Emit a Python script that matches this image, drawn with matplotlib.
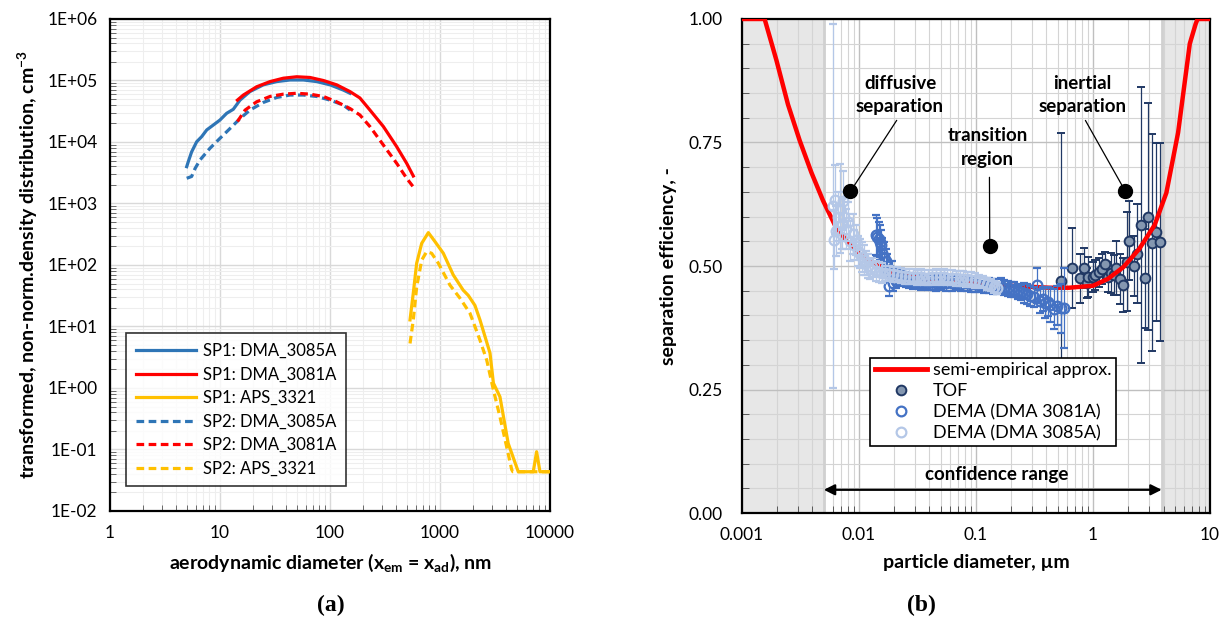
import matplotlib
matplotlib.use("Agg")
import matplotlib.pyplot as plt
from matplotlib.lines import Line2D
from matplotlib.ticker import FixedLocator, FuncFormatter, MultipleLocator, LogLocator, NullFormatter

plt.rcParams['font.family'] = ['Lato', 'DejaVu Sans']
plt.rcParams['mathtext.fontset'] = 'custom'
plt.rcParams['mathtext.rm'] = 'Lato'
plt.rcParams['mathtext.bf'] = 'Lato:bold'
plt.rcParams['mathtext.default'] = 'bf'

# ---------------- panel (a) data ----------------
sp1_3085_x = [4.98, 5.15, 5.52, 6.14, 6.81, 7.57, 8.7, 10, 11.5, 13.2, 15.2, 18.7, 24.8, 32.8, 43.3, 57.3, 75.7, 100, 132, 152]
sp1_3085_y = [3970, 4800, 6900, 1.01e4, 1.22e4, 1.57e4, 1.89e4, 2.28e4, 2.93e4, 3.4e4, 4.8e4, 6.6e4, 8.5e4, 9.6e4, 1.02e5, 1.02e5, 9.6e4, 8.5e4, 7.0e4, 6.2e4]

sp1_3081_x = [14.4, 16.3, 21.5, 28.5, 37.7, 49.8, 65.8, 87, 115, 152, 187, 231, 306, 404, 498, 572]
sp1_3081_y = [4.8e4, 5.8e4, 7.9e4, 9.6e4, 1.09e5, 1.15e5, 1.12e5, 1.0e5, 8.5e4, 6.6e4, 5.2e4, 3.3e4, 1.78e4, 8400, 4500, 2800]

sp1_aps_x = [534, 572, 614, 682, 784, 901, 1073, 1320, 1625, 1810, 2080, 2310, 2850, 3060, 3510, 4170, 5150, 7050, 7560, 8110, 10000]
sp1_aps_y = [12.8, 35, 107, 225, 336, 240, 155, 69, 39, 32, 22, 12.8, 3.7, 1.2, 0.72, 0.126, 0.0435, 0.0435, 0.092, 0.0435, 0.0435]

sp2_3085_x = [4.98, 5.52, 5.93, 6.58, 8.1, 10, 12.3, 15.2, 18.7, 24.8, 32.8, 43.3, 57.3, 75.7, 100, 132, 152]
sp2_3085_y = [2570, 2750, 3700, 5100, 7900, 1.15e4, 1.65e4, 2.4e4, 3.3e4, 4.4e4, 5.3e4, 5.8e4, 5.8e4, 5.5e4, 4.8e4, 4.0e4, 3.3e4]

sp2_3081_x = [14.4, 16.9, 21.5, 28.5, 37.7, 49.8, 65.8, 87, 115, 152, 187, 231, 306, 404, 498, 572]
sp2_3081_y = [2.15e4, 3.3e4, 4.5e4, 5.5e4, 6.0e4, 6.2e4, 6.0e4, 5.5e4, 4.5e4, 3.5e4, 2.75e4, 1.78e4, 8900, 4500, 2570, 1860]

sp2_aps_x = [534, 572, 614, 682, 757, 840, 966, 1233, 1517, 1875, 2310, 2660, 3060, 3510, 4040, 4490, 4600, 10000]
sp2_aps_y = [5.3, 12.8, 44, 120, 165, 155, 107, 47, 29, 16.4, 6.0, 2.85, 0.93, 0.34, 0.11, 0.047, 0.0435, 0.0435]

left_legend = ["SP1: DMA_3085A", "SP1: DMA_3081A", "SP1: APS_3321",
               "SP2: DMA_3085A", "SP2: DMA_3081A", "SP2: APS_3321"]

# ---------------- panel (b) data ----------------
approx_x = [0.001, 0.00156, 0.00197, 0.00247, 0.00311, 0.00392, 0.00493, 0.00621, 0.00782, 0.01, 0.0145,
            0.0197, 0.0423, 0.1, 0.196, 0.423, 0.621, 1.0, 1.34, 1.82, 2.47, 3.36, 4.23, 5.33, 6.71, 7.53, 7.82, 10]
approx_y = [1.0, 1.0, 0.916, 0.827, 0.754, 0.689, 0.632, 0.583, 0.551, 0.526, 0.502,
            0.486, 0.472, 0.466, 0.46, 0.456, 0.456, 0.46, 0.474, 0.498, 0.534, 0.583, 0.648, 0.77, 0.95, 0.99, 1.0, 1.0]

tof_x = [0.53, 0.66, 0.78, 0.83, 0.88, 0.91, 0.99, 1.04, 1.13, 1.19, 1.27, 1.33, 1.42, 1.50, 1.58, 1.69, 1.82,
         1.94, 2.04, 2.25, 2.37, 2.56, 2.76, 2.97, 3.21, 3.46, 3.74]
tof_y = [0.470, 0.496, 0.475, 0.496, 0.465, 0.478, 0.478, 0.482, 0.487, 0.494, 0.504, 0.478, 0.486, 0.482, 0.496,
         0.474, 0.461, 0.509, 0.551, 0.500, 0.525, 0.583, 0.475, 0.600, 0.547, 0.569, 0.548]
tof_err = [0.30, 0.08, 0.05, 0.04, 0.03, 0.04, 0.03, 0.03, 0.03, 0.03, 0.025, 0.03, 0.04, 0.04, 0.055,
           0.05, 0.055, 0.10, 0.08, 0.06, 0.10, 0.28, 0.10, 0.23, 0.22, 0.18, 0.20]

d3081_x = [0.0139, 0.0143, 0.0147, 0.015, 0.0154, 0.0158, 0.0163, 0.0169, 0.0175, 0.0182, 0.019, 0.0197, 0.0205,
           0.022, 0.0235, 0.025, 0.0267, 0.029, 0.031, 0.0336, 0.036, 0.039, 0.042, 0.0457, 0.05, 0.055, 0.062,
           0.068, 0.075, 0.083, 0.09, 0.098, 0.107, 0.117, 0.128, 0.14, 0.152, 0.163, 0.175, 0.188, 0.2, 0.213,
           0.227, 0.242, 0.257, 0.275, 0.29, 0.311, 0.33, 0.35, 0.37, 0.39, 0.41, 0.43, 0.46, 0.49, 0.53, 0.56]
d3081_y = [0.563, 0.558, 0.555, 0.548, 0.543, 0.526, 0.518, 0.510, 0.500, 0.460, 0.490, 0.465, 0.470,
           0.478, 0.474, 0.472, 0.470, 0.468, 0.470, 0.466, 0.468, 0.466, 0.467, 0.465, 0.466, 0.465, 0.465,
           0.466, 0.464, 0.465, 0.463, 0.463, 0.462, 0.461, 0.460, 0.459, 0.458, 0.460, 0.456, 0.455, 0.453, 0.452,
           0.449, 0.447, 0.446, 0.443, 0.440, 0.437, 0.461, 0.429, 0.433, 0.425, 0.428, 0.421, 0.413, 0.420, 0.414, 0.415]
d3081_err = [0.04, 0.04, 0.035, 0.035, 0.03, 0.03, 0.03, 0.025, 0.025, 0.02, 0.02, 0.015, 0.015,
             0.015, 0.015, 0.015, 0.015, 0.015, 0.015, 0.015, 0.015, 0.015, 0.015, 0.015, 0.015, 0.015, 0.015,
             0.015, 0.015, 0.015, 0.015, 0.015, 0.015, 0.015, 0.015, 0.015, 0.015, 0.015, 0.015, 0.015, 0.015, 0.015,
             0.015, 0.015, 0.02, 0.02, 0.02, 0.02, 0.035, 0.025, 0.025, 0.03, 0.03, 0.035, 0.04, 0.04, 0.05, 0.08]

d3085_x = [0.0060, 0.0061, 0.0062, 0.0064, 0.0066, 0.0069, 0.0071, 0.0073, 0.0075, 0.0078, 0.0081, 0.0084, 0.0088,
           0.0091, 0.0095, 0.0098, 0.0102, 0.0106, 0.011, 0.0115, 0.012, 0.0124, 0.013, 0.0139, 0.0147, 0.0156,
           0.0168, 0.0182, 0.0197, 0.0213, 0.023, 0.0247, 0.0267, 0.0288, 0.031, 0.0336, 0.036, 0.0392, 0.042,
           0.0457, 0.049, 0.0533, 0.057, 0.0622, 0.067, 0.0725, 0.078, 0.0845, 0.091, 0.0985, 0.106, 0.115,
           0.124, 0.134, 0.142, 0.150]
d3085_y = [0.622, 0.553, 0.634, 0.571, 0.600, 0.616, 0.585, 0.632, 0.600, 0.575, 0.590, 0.551, 0.565,
           0.543, 0.552, 0.530, 0.525, 0.518, 0.512, 0.506, 0.500, 0.494, 0.497, 0.490, 0.488, 0.486,
           0.485, 0.484, 0.483, 0.482, 0.480, 0.479, 0.478, 0.478, 0.477, 0.478, 0.476, 0.476, 0.477,
           0.478, 0.477, 0.478, 0.476, 0.476, 0.475, 0.474, 0.474, 0.473, 0.472, 0.471, 0.469, 0.467,
           0.464, 0.461, 0.458, 0.455]
d3085_err = [0.368, 0.06, 0.07, 0.05, 0.05, 0.09, 0.05, 0.06, 0.05, 0.04, 0.04, 0.04, 0.04,
             0.03, 0.03, 0.03, 0.03, 0.03, 0.03, 0.025, 0.025, 0.02, 0.02, 0.02, 0.02, 0.02,
             0.015, 0.015, 0.015, 0.015, 0.015, 0.015, 0.015, 0.015, 0.015, 0.015, 0.015, 0.015, 0.015,
             0.015, 0.015, 0.015, 0.015, 0.015, 0.015, 0.015, 0.015, 0.015, 0.015, 0.015, 0.012, 0.012,
             0.012, 0.012, 0.012, 0.012]

right_legend = ["semi-empirical approx.", "TOF", "DEMA (DMA 3081A)", "DEMA (DMA 3085A)"]

BLUE = '#2e75b6'
RED = '#ff0000'
YEL = '#ffc000'
DASH = (0, (2.4, 1.4))
TICK_FS = 12.5
LABEL_FS = 14

fig = plt.figure(figsize=(12.32, 6.29), dpi=100)

# =============== panel (a) ===============
ax = fig.add_axes([0.0893, 0.1876, 0.3571, 0.7822])
ax.set_xscale('log')
ax.set_yscale('log')
ax.set_xlim(1, 10000)
ax.set_ylim(1e-2, 1e6)

lw = 2.3
ax.plot(sp1_3085_x, sp1_3085_y, color=BLUE, lw=lw, label=left_legend[0], zorder=3)
ax.plot(sp1_3081_x, sp1_3081_y, color=RED, lw=lw, label=left_legend[1], zorder=4)
ax.plot(sp1_aps_x, sp1_aps_y, color=YEL, lw=lw, label=left_legend[2], zorder=4)
ax.plot(sp2_3085_x, sp2_3085_y, color=BLUE, lw=lw, ls=DASH, label=left_legend[3], zorder=3)
ax.plot(sp2_3081_x, sp2_3081_y, color=RED, lw=lw, ls=DASH, label=left_legend[4], zorder=4)
ax.plot(sp2_aps_x, sp2_aps_y, color=YEL, lw=lw, ls=DASH, label=left_legend[5], zorder=3)

ax.xaxis.set_major_locator(FixedLocator([1, 10, 100, 1000, 10000]))
ax.xaxis.set_major_formatter(FuncFormatter(lambda v, p: f"{v:g}"))
ax.xaxis.set_minor_locator(LogLocator(base=10, subs=range(2, 10), numticks=20))
ax.xaxis.set_minor_formatter(NullFormatter())
ax.yaxis.set_major_locator(FixedLocator([10.0 ** k for k in range(-2, 7)]))
ax.yaxis.set_major_formatter(FuncFormatter(lambda v, p: f"{v:.0E}"))
ax.yaxis.set_minor_locator(LogLocator(base=10, subs=range(2, 10), numticks=20))
ax.yaxis.set_minor_formatter(NullFormatter())

ax.set_axisbelow(True)
ax.grid(which='major', color='#d9d9d9', lw=1.0)
ax.grid(which='minor', color='#eeeeee', lw=0.8)
ax.tick_params(which='both', direction='in', labelsize=TICK_FS, color='#555555')
ax.tick_params(which='major', length=0)
ax.tick_params(which='minor', length=4)
ax.tick_params(axis='y', which='major', pad=9)
ax.tick_params(axis='x', which='major', pad=10)
for s in ax.spines.values():
    s.set_linewidth(1.6)
    s.set_color('black')

ax.set_xlabel(r"aerodynamic diameter (x$_{em}$ = x$_{ad}$), nm", fontsize=LABEL_FS, fontweight='bold', labelpad=8)
ax.set_ylabel(r"transformed, non-norm.density distribution, cm$^{-3}$", fontsize=LABEL_FS, fontweight='bold', labelpad=5)

leg = ax.legend(loc='lower left', bbox_to_anchor=(0.036, 0.05), fontsize=12, handlelength=3.6,
                frameon=True, fancybox=False, edgecolor='black', borderpad=0.6, labelspacing=0.45,
                handletextpad=0.4, borderaxespad=0)
leg.get_frame().set_linewidth(1.2)

# =============== panel (b) ===============
bx = fig.add_axes([0.6023, 0.1844, 0.3799, 0.7854])
bx.set_xscale('log')
bx.set_xlim(0.001, 10)
bx.set_ylim(0, 1)

CONF_LO, CONF_HI = 0.005, 3.86
bx.axvspan(0.001, CONF_LO, color='#e7e7e7', zorder=0, lw=0)
bx.axvspan(CONF_HI, 10, color='#e7e7e7', zorder=0, lw=0)
bx.axvline(CONF_LO, color='#d0d0d0', lw=2, zorder=0.6)
bx.axvline(CONF_HI, color='#d0d0d0', lw=2, zorder=0.6)

bx.xaxis.set_major_locator(FixedLocator([0.001, 0.01, 0.1, 1, 10]))
bx.xaxis.set_major_formatter(FuncFormatter(lambda v, p: f"{v:g}"))
bx.xaxis.set_minor_locator(LogLocator(base=10, subs=range(2, 10), numticks=20))
bx.xaxis.set_minor_formatter(NullFormatter())
bx.yaxis.set_major_locator(MultipleLocator(0.25))
bx.yaxis.set_major_formatter(FuncFormatter(lambda v, p: f"{v:.2f}"))
bx.yaxis.set_minor_locator(MultipleLocator(0.05))

bx.set_axisbelow(True)
bx.grid(which='major', color='#bfbfbf', lw=1.0)
bx.grid(which='minor', color='#d4d4d4', lw=0.8)
bx.tick_params(which='both', direction='in', labelsize=TICK_FS, color='#444444')
bx.tick_params(which='major', length=0)
bx.tick_params(which='minor', length=5)
bx.tick_params(axis='y', which='major', pad=14)
bx.tick_params(axis='x', which='major', pad=10)
for s in bx.spines.values():
    s.set_linewidth(1.6)
    s.set_color('black')

TOF_FACE, TOF_EDGE = '#8497b0', '#203864'
C81 = '#4472c4'
C85 = '#b4c7e7'

bx.errorbar(tof_x, tof_y, yerr=tof_err, fmt='o', ms=7, mfc=TOF_FACE, mec=TOF_EDGE, mew=1.4,
            ecolor=TOF_EDGE, elinewidth=0.9, capsize=3, zorder=3)
bx.plot(approx_x, approx_y, color=RED, lw=3.2, zorder=4, solid_capstyle='butt')
bx.errorbar(d3081_x, d3081_y, yerr=d3081_err, fmt='o', ms=7, mfc='none', mec=C81, mew=1.6,
            ecolor=C81, elinewidth=0.9, capsize=3, zorder=5)
bx.errorbar(d3085_x, d3085_y, yerr=d3085_err, fmt='o', ms=7, mfc='none', mec=C85, mew=1.6,
            ecolor=C85, elinewidth=0.9, capsize=3, zorder=6)

# annotations
ann_fs = 13.5
dot_kw = dict(marker='o', ms=10, color='black', zorder=8, ls='none')
bx.annotate("diffusive\nseparation", xy=(0.00845, 0.651), xytext=(0.0224, 0.846), ha='center', va='center',
            fontsize=ann_fs, fontweight='bold', linespacing=1.45,
            arrowprops=dict(arrowstyle='-', color='black', lw=0.9, shrinkA=2, shrinkB=0,
                            relpos=(0.5, 0.0)), zorder=8)
bx.plot([0.00845], [0.651], **dot_kw)
bx.annotate("transition\nregion", xy=(0.131, 0.541), xytext=(0.126, 0.74), ha='center', va='center',
            fontsize=ann_fs, fontweight='bold', linespacing=1.45,
            arrowprops=dict(arrowstyle='-', color='black', lw=0.9, shrinkA=5, shrinkB=0,
                            relpos=(0.52, 0.0)), zorder=8)
bx.plot([0.131], [0.541], **dot_kw)
bx.annotate("inertial\nseparation", xy=(1.89, 0.651), xytext=(0.812, 0.846), ha='center', va='center',
            fontsize=ann_fs, fontweight='bold', linespacing=1.45,
            arrowprops=dict(arrowstyle='-', color='black', lw=0.9, shrinkA=2, shrinkB=0,
                            relpos=(0.5, 0.0)), zorder=8)
bx.plot([1.89], [0.651], **dot_kw)

bx.annotate('', xy=(CONF_LO, 0.047), xytext=(CONF_HI, 0.047),
            arrowprops=dict(arrowstyle='<|-|>', color='black', lw=1.6, mutation_scale=16, shrinkA=0, shrinkB=0),
            zorder=8)
bx.text(0.15, 0.078, "confidence range", ha='center', va='center', fontsize=ann_fs, fontweight='bold', zorder=8)

bx.set_xlabel("particle diameter, µm", fontsize=LABEL_FS, fontweight='bold', labelpad=8)
bx.set_ylabel("separation efficiency, -", fontsize=LABEL_FS, fontweight='bold', labelpad=8)

handles = [
    Line2D([], [], color=RED, lw=3.5),
    Line2D([], [], ls='none', marker='o', ms=7, mfc=TOF_FACE, mec=TOF_EDGE, mew=1.4),
    Line2D([], [], ls='none', marker='o', ms=7, mfc='none', mec=C81, mew=1.6),
    Line2D([], [], ls='none', marker='o', ms=7, mfc='none', mec=C85, mew=1.6),
]
leg2 = bx.legend(handles, right_legend, loc='lower left', bbox_to_anchor=(0.274, 0.135), fontsize=13,
                 handlelength=2.9, frameon=True, fancybox=False, edgecolor='black', borderpad=0.25,
                 labelspacing=0.28, handletextpad=0.3, borderaxespad=0, framealpha=1)
leg2.get_frame().set_linewidth(1.2)
leg2.set_zorder(9)

fig.text(0.2687, 0.038, "(a)", ha='center', va='center', fontsize=17, fontweight='bold', family='Liberation Serif')
fig.text(0.7476, 0.038, "(b)", ha='center', va='center', fontsize=17, fontweight='bold', family='Liberation Serif')

fig.savefig("out.png", dpi=100)
